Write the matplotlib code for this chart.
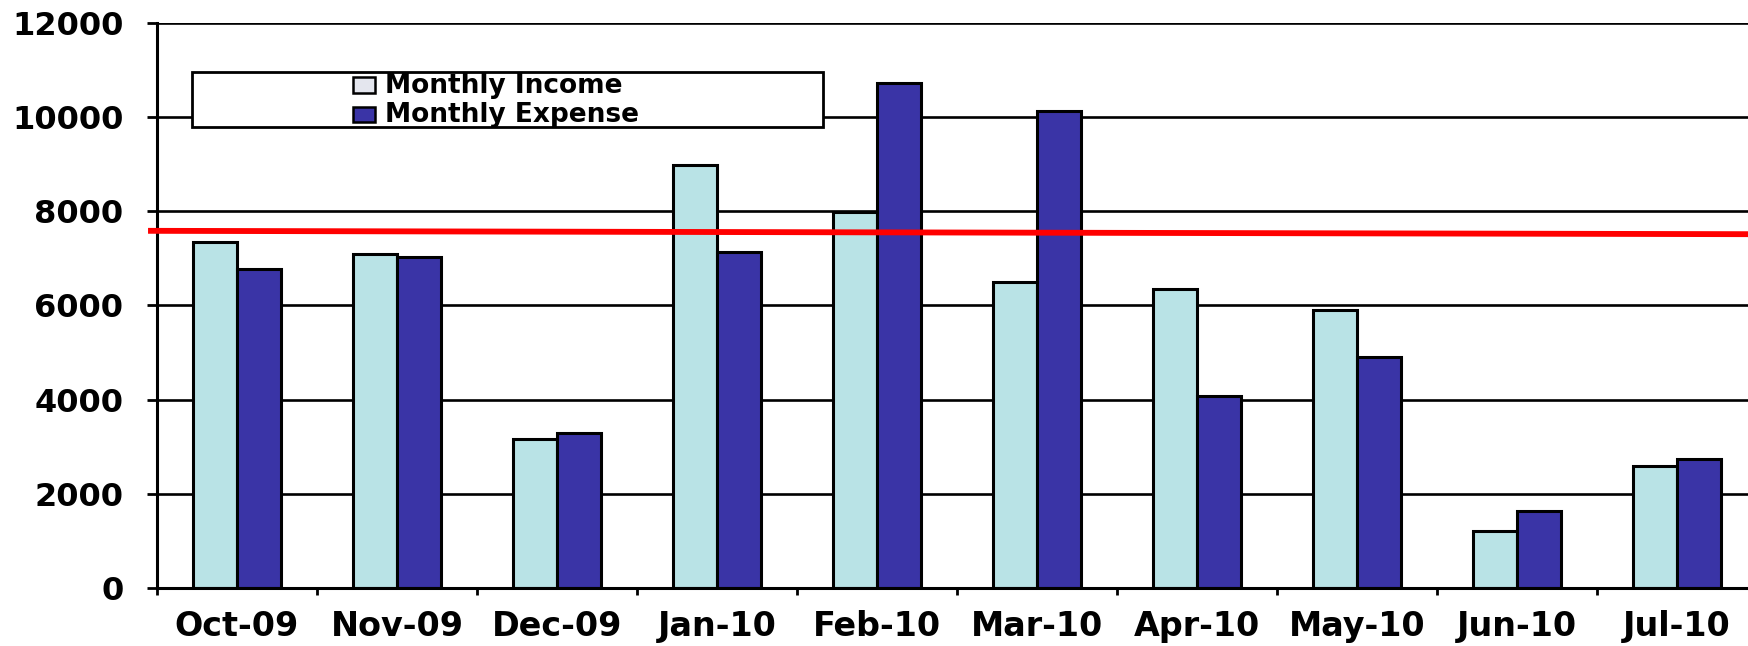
import matplotlib
matplotlib.use("Agg")
import matplotlib.pyplot as plt
from matplotlib.patches import Rectangle
import numpy as np

# data
months = ["Oct-09", "Nov-09", "Dec-09", "Jan-10", "Feb-10",
          "Mar-10", "Apr-10", "May-10", "Jun-10", "Jul-10"]
income = [7345, 7085, 3165, 8985, 7975, 6495, 6340, 5900, 1215, 2580]
expense = [6765, 7035, 3290, 7135, 10720, 10135, 4070, 4910, 1640, 2740]
yticks = [0, 2000, 4000, 6000, 8000, 10000, 12000]
red_line = [7582, 7510]   # the red reference line, left end / right end

W, H = 1749, 646
inc_color = "#B9E3E6"
exp_color = "#3A34A6"

plt.rcParams["font.family"] = ["DejaVu Sans"]
plt.rcParams["font.weight"] = "bold"

fig = plt.figure(figsize=(W / 100, H / 100), dpi=100)
ax = fig.add_axes([157 / W, 58 / H, 1600 / W, (588 - 22.7) / H])

x = np.arange(len(months)) + 0.5
bw = 0.275
ax.bar(x - bw / 2, income, bw, color=inc_color, edgecolor="black", linewidth=2.2, zorder=2)
ax.bar(x + bw / 2, expense, bw, color=exp_color, edgecolor="black", linewidth=2.2, zorder=2)

ax.set_xlim(0, len(months))
ax.set_ylim(0, 12000)

# tick marks at the category boundaries, labels at the centres
ax.set_xticks(np.arange(len(months) + 1))
ax.set_xticklabels([])
ax.set_xticks(x, minor=True)
ax.set_xticklabels(months, minor=True, fontsize=24, fontweight="heavy")
ax.tick_params(axis="x", which="major", direction="out", length=5, width=2)
ax.tick_params(axis="x", which="minor", length=0, pad=16)

ax.set_yticks(yticks)
ax.set_yticklabels([str(v) for v in yticks], fontsize=23, fontweight="heavy")
ax.tick_params(axis="y", direction="out", length=7.2, width=2, pad=17)

ax.grid(axis="y", color="black", linewidth=1.9, zorder=0)
ax.set_axisbelow(True)
for s in ["top", "right"]:
    ax.spines[s].set_visible(False)
ax.spines["left"].set_linewidth(2.2)
ax.spines["bottom"].set_linewidth(2.2)

# red line across the chart, starting just left of the axis
ax.plot([-0.056, len(months) + 0.05], red_line, color="#FF0000", linewidth=4.2,
        solid_capstyle="butt", clip_on=False, zorder=5)

# legend box drawn by hand so it matches the wide frame of the original
def fx(px):
    return px / W

def fy(py):
    return 1 - py / H

tf = fig.transFigure
ax.add_patch(Rectangle((fx(192), fy(127)), fx(823) - fx(192), fy(72) - fy(127),
                       transform=tf, facecolor="white", edgecolor="black",
                       linewidth=2, zorder=4, clip_on=False))
ax.add_patch(Rectangle((fx(353), fy(93)), fx(375) - fx(353), fy(77) - fy(93),
                       transform=tf, facecolor="#E4E6EE", edgecolor="black",
                       linewidth=1.8, zorder=5, clip_on=False))
ax.add_patch(Rectangle((fx(353), fy(122)), fx(375) - fx(353), fy(107) - fy(122),
                       transform=tf, facecolor=exp_color, edgecolor="black",
                       linewidth=1.8, zorder=5, clip_on=False))
fig.text(fx(385), fy(93), "Monthly Income", fontsize=19, fontweight="heavy",
         va="baseline", ha="left", zorder=6)
fig.text(fx(385), fy(121.7), "Monthly Expense", fontsize=19, fontweight="heavy",
         va="baseline", ha="left", zorder=6)

fig.savefig("out.png", dpi=100)
